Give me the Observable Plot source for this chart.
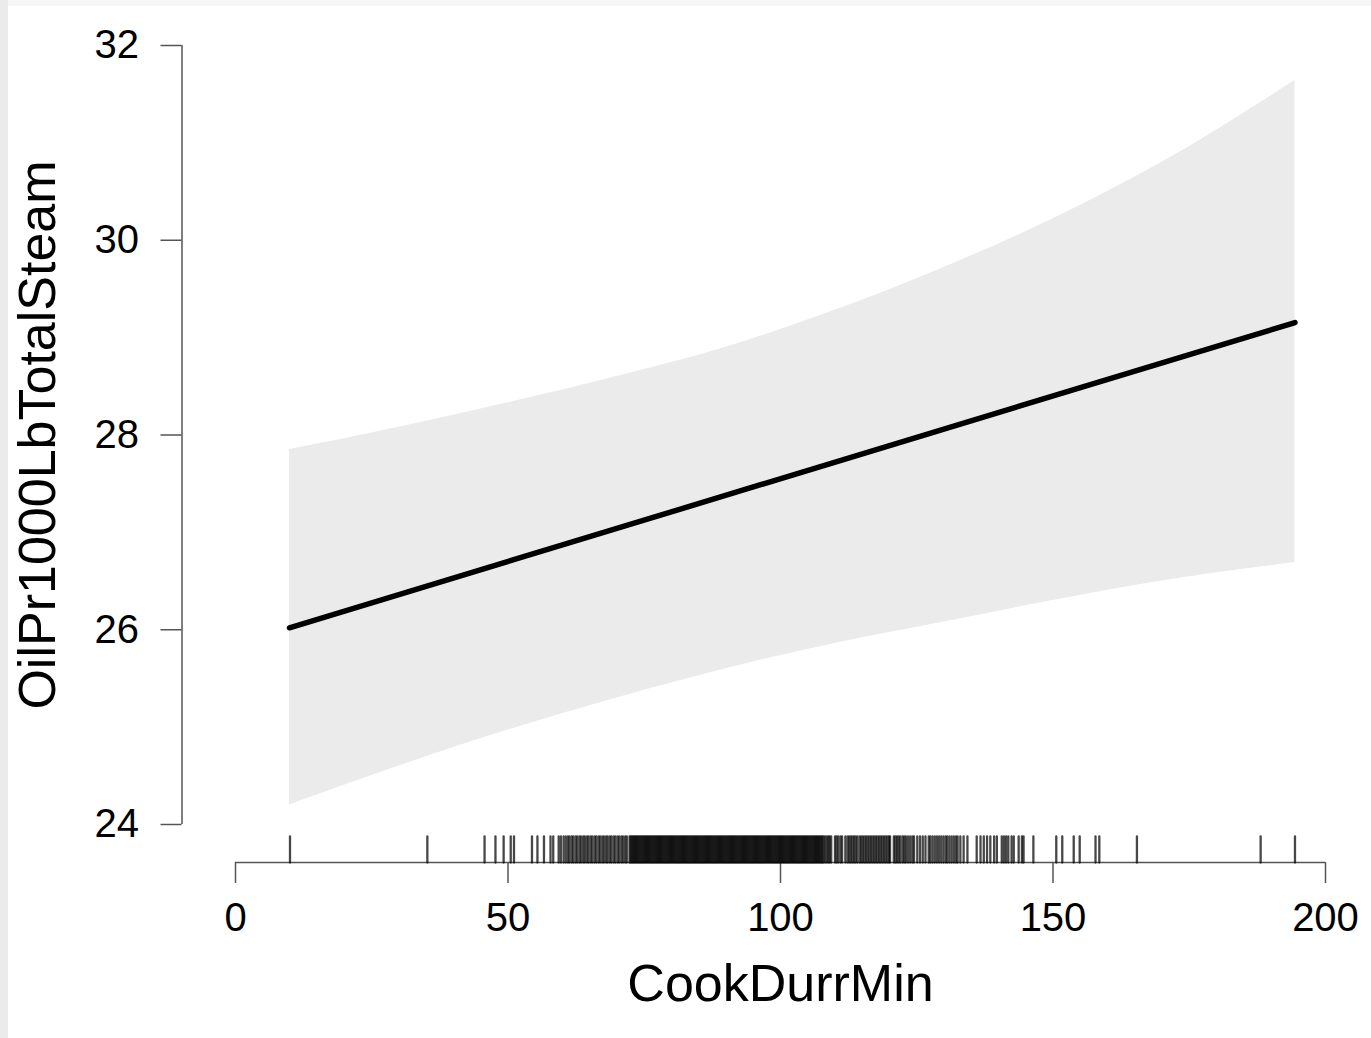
<!DOCTYPE html>
<html><head><meta charset="utf-8">
<script src="https://cdn.jsdelivr.net/npm/d3@7"></script>
<script src="https://cdn.jsdelivr.net/npm/@observablehq/plot@0.6"></script>
<style>
html,body{margin:0;padding:0;background:#fff;}
#chart{position:absolute;left:0;top:0;}
.strip-left{position:absolute;left:0;top:0;width:8px;height:1038px;background:#ebebeb;}
.strip-top{position:absolute;left:0;top:0;width:1371px;height:6px;background:#f7f7f7;}
</style></head><body>
<div id="chart"></div>
<div class="strip-top"></div><div class="strip-left"></div>
<script>
// Confidence band (CookDurrMin vs fitted OilPr1000LbTotalSteam)
const bandX     = [9.9,   30,    50,    70,    90,    110,   130,   150,   170,   194.4];
const bandUpper = [27.85, 28.08, 28.33, 28.6,  28.9,  29.28, 29.72, 30.22, 30.8,  31.64];
const bandLower = [24.2,  24.6,  24.97, 25.3,  25.6,  25.86, 26.08, 26.3,  26.5,  26.69];
// Fitted line
const lineX = [9.9, 194.4];
const lineY = [26.02, 29.155];
// Rug of observed CookDurrMin values
const rugX = [
 10, 35.2, 45.7, 47.7, 49.2, 50.5, 51.1, 54.4, 55.4, 56.6, 57.8, 58.3, 59.3, 59.7, 60.2, 60.6,
 61.0, 61.3, 61.7, 62.0, 62.4, 62.7, 63.1, 63.4, 63.8, 64.1, 64.5, 64.8, 65.2, 65.5, 65.9, 66.2,
 66.6, 66.9, 67.3, 67.6, 68.0, 68.3, 68.7, 69.0, 69.4, 69.7, 70.1, 70.4, 70.8, 71.1, 71.5, 71.8,
 72.3, 72.5, 72.7, 72.9, 73.1, 73.3, 73.5, 73.7, 73.9, 74.1, 74.3, 74.5, 74.7, 74.9, 75.1, 75.3,
 75.5, 75.7, 75.9, 76.1, 76.3, 76.5, 76.7, 76.9, 77.1, 77.3, 77.5, 77.7, 77.9, 78.1, 78.3, 78.5,
 78.7, 78.9, 79.1, 79.3, 79.5, 79.7, 79.9, 80.1, 80.3, 80.5, 80.7, 80.9, 81.1, 81.3, 81.5, 81.7,
 81.9, 82.1, 82.3, 82.5, 82.7, 82.9, 83.1, 83.3, 83.5, 83.7, 83.9, 84.1, 84.3, 84.5, 84.7, 84.9,
 85.1, 85.3, 85.5, 85.7, 85.9, 86.1, 86.3, 86.5, 86.7, 86.9, 87.1, 87.3, 87.5, 87.7, 87.9, 88.1,
 88.3, 88.5, 88.7, 88.9, 89.1, 89.3, 89.5, 89.7, 89.9, 90.1, 90.3, 90.5, 90.7, 90.9, 91.1, 91.3,
 91.5, 91.7, 91.9, 92.1, 92.3, 92.5, 92.7, 92.9, 93.1, 93.3, 93.5, 93.7, 93.9, 94.1, 94.3, 94.5,
 94.7, 94.9, 95.1, 95.3, 95.5, 95.7, 95.9, 96.1, 96.3, 96.5, 96.7, 96.9, 97.1, 97.3, 97.5, 97.7,
 97.9, 98.1, 98.3, 98.5, 98.7, 98.9, 99.1, 99.3, 99.5, 99.7, 99.9, 100.1, 100.3, 100.5, 100.7, 100.9,
 101.1, 101.3, 101.5, 101.7, 101.9, 102.1, 102.3, 102.5, 102.7, 102.9, 103.1, 103.3, 103.5, 103.7,
 103.9, 104.1, 104.3, 104.5, 104.7, 104.9, 105.1, 105.3, 105.5, 105.7, 105.9, 106.1, 106.3, 106.5,
 106.7, 106.9, 107.1, 107.3, 107.5, 107.7, 107.9,
 108.2, 108.5, 108.8, 109.0, 109.3, 110.0, 110.3, 110.6, 111.0, 111.3, 111.9, 112.3, 112.6, 112.9,
 113.2, 113.5, 113.8, 114.1, 114.5, 114.8, 115.1, 115.4, 115.7, 116.0, 116.3, 116.6, 116.9, 117.2,
 117.5, 117.8, 118.1, 118.4, 118.7, 119.0, 119.3, 119.6, 119.9, 120.1, 120.8, 121.1, 121.4, 121.7,
 122.0, 122.4, 122.7, 123.0, 123.4, 123.8, 124.2, 124.5, 125.1, 125.6, 126.1, 126.6, 127.2, 127.5,
 127.9, 128.3, 128.7, 129.1, 129.5, 129.9, 130.3, 130.6, 131.0, 131.4, 131.8, 132.2, 132.5, 133.0,
 133.6, 134.3, 136.0, 136.7, 137.3, 137.9, 138.5, 139.2, 139.7, 140.6, 141.0, 141.4, 141.8, 142.4,
 142.8, 143.7, 144.3, 144.6, 146.4, 150.6, 151.7, 153.8, 154.9, 157.8, 158.5, 165.4, 188.1, 194.4
];
const xTicks = [0, 50, 100, 150, 200];
const yTicks = [24, 26, 28, 30, 32];
const xLabel = "CookDurrMin";
const yLabel = "OilPr1000LbTotalSteam";

const band = bandX.map((x, i) => ({x, hi: bandUpper[i], lo: bandLower[i]}));
const line = lineX.map((x, i) => ({x, y: lineY[i]}));
const axisColor = "#555";
const rugShape = {draw(ctx, l) { ctx.moveTo(0, 0); ctx.lineTo(0, -l); }};

const chart = Plot.plot({
  width: 1371, height: 1038,
  marginLeft: 235, marginRight: 46, marginTop: 45, marginBottom: 214,
  style: {fontFamily: '"Liberation Sans", Arial, Helvetica, sans-serif', background: "transparent", color: "black"},
  x: {domain: [0, 200]},
  y: {domain: [24, 32]},
  marks: [
    Plot.areaY(band, {x: "x", y1: "lo", y2: "hi", fill: "#ebebeb", curve: "monotone-x"}),
    Plot.lineY(line, {x: "x", y: "y", stroke: "black", strokeWidth: 5.5}),
    // y axis
    Plot.ruleX([0], {y1: yTicks[0], y2: yTicks[yTicks.length - 1], dx: -53.5, stroke: axisColor, strokeWidth: 1.5}),
    Plot.axisY({ticks: yTicks, tickSize: 21, tickPadding: 22, dx: -53.5, fontSize: 40, label: null,
      stroke: axisColor, strokeWidth: 1.5, fill: "black"}),
    // x axis
    Plot.ruleY([24], {x1: xTicks[0], x2: xTicks[xTicks.length - 1], dy: 38, stroke: axisColor, strokeWidth: 1.5}),
    Plot.axisX({ticks: xTicks, tickSize: 21, tickPadding: 19, dy: 38, fontSize: 40, label: null,
      stroke: axisColor, strokeWidth: 1.5, fill: "black"}),
    // rug
    Plot.vector(rugX, {x: d => d, frameAnchor: "bottom", dy: 38, length: 26, anchor: "start",
      shape: rugShape, stroke: "black", strokeOpacity: 0.72, strokeWidth: 2.3}),
    // axis titles
    Plot.text([xLabel], {text: d => d, frameAnchor: "bottom", dy: 176, fontSize: 52, fill: "black", textAnchor: "middle"}),
    Plot.text([yLabel], {text: d => d, frameAnchor: "left", rotate: -90, dx: -197, fontSize: 52, fill: "black", textAnchor: "middle"})
  ]
});
document.getElementById("chart").appendChild(chart);
</script>
</body></html>
